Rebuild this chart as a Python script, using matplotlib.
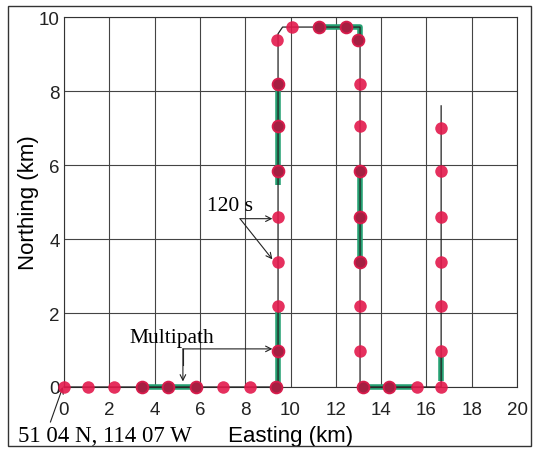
import numpy as np
import matplotlib.pyplot as plt
from matplotlib.patches import Rectangle

# Vehicle track (km): thin reference path
track_e = [0.0, 9.45, 9.45, 9.65, 13.07, 13.07, 16.65, 16.65]
track_n = [0.0, 0.0, 9.55, 9.73, 9.73, 0.0, 0.0, 7.6]

# Segments flagged as multipath (east list, north list)
multipath_segs = [
    ([3.45, 5.85], [0.0, 0.0]),
    ([9.45, 9.45], [0.0, 2.03]),
    ([9.45, 9.45], [5.45, 8.1]),
    ([11.26, 13.07, 13.07], [9.73, 9.73, 9.38]),
    ([13.07, 13.07], [3.39, 5.96]),
    ([13.2, 15.4], [0.0, 0.0]),
    ([16.65, 16.65], [0.15, 0.8]),
]

# Position fixes every 120 s
fix_e = [0.0, 1.04, 2.23, 3.44, 4.6, 5.83, 7.02, 8.2, 9.35,
         9.45, 9.45, 9.45, 9.45, 9.45, 9.45, 9.45, 9.4,
         10.07, 11.26, 12.45, 13.0,
         13.07, 13.07, 13.07, 13.07, 13.07, 13.07, 13.07, 13.2,
         14.35, 15.6, 16.65,
         16.65, 16.65, 16.65, 16.65, 16.65, 16.65]
fix_n = [0.0, 0.0, 0.0, 0.0, 0.0, 0.0, 0.0, 0.0, 0.0,
         0.97, 2.19, 3.39, 4.6, 5.83, 7.05, 8.2, 9.38,
         9.73, 9.73, 9.73, 9.38,
         8.2, 7.05, 5.83, 4.6, 3.39, 2.19, 0.97, 0.0,
         0.0, 0.0, 0.0,
         0.97, 2.19, 3.39, 4.6, 5.83, 7.0]

xticks = [0, 2, 4, 6, 8, 10, 12, 14, 16, 18, 20]
yticks = [0, 2, 4, 6, 8, 10]

sans = ["Liberation Sans", "DejaVu Sans"]
serif = ["Liberation Serif", "DejaVu Serif"]


def on_multipath(e, n, tol=0.12):
    # True when a fix sits on one of the multipath segments
    for se, sn in multipath_segs:
        for i in range(len(se) - 1):
            e0, e1 = sorted((se[i], se[i + 1]))
            n0, n1 = sorted((sn[i], sn[i + 1]))
            if e0 - tol <= e <= e1 + tol and n0 - tol <= n <= n1 + tol:
                return True
    return False


fig = plt.figure(figsize=(5.35, 4.52), dpi=100)
ax = fig.add_axes([0.1196, 0.1416, 0.9664 - 0.1196, 0.960 - 0.1416])

# Outer frame round the whole figure
fig.patches.append(Rectangle((8 / 535, 1 - 447 / 452), (531 - 8) / 535,
                             (447 - 7) / 452, transform=fig.transFigure,
                             fill=False, edgecolor="#333333", linewidth=1.0))

ax.set_xlim(0, 20)
ax.set_ylim(0, 10)
ax.set_xticks(xticks)
ax.set_yticks(yticks)
ax.grid(True, color="#444444", linewidth=0.8)
ax.set_axisbelow(True)
for s in ax.spines.values():
    s.set_color("#333333")
    s.set_linewidth(0.8)
ax.tick_params(length=0, pad=3, labelsize=13.5, colors="#222222")
ax.tick_params(axis="x", pad=10)
for lab in ax.get_xticklabels() + ax.get_yticklabels():
    lab.set_family(sans)

# Multipath segments drawn thick underneath the thin track
for e, n in multipath_segs:
    ax.plot(e, n, color="#25a072", linewidth=4, solid_capstyle="butt",
            zorder=2, clip_on=False)
ax.plot(track_e, track_n, color="#222222", linewidth=0.9, zorder=3,
        clip_on=False)

# Fixes on multipath stretches print darker
dark = np.array([on_multipath(e, n) for e, n in zip(fix_e, fix_n)])
fe = np.array(fix_e)
fn = np.array(fix_n)
ax.plot(fe[~dark], fn[~dark], "o", color="#e3194c", markersize=9,
        alpha=0.9, markeredgewidth=0, zorder=4, clip_on=False)
ax.plot(fe[dark], fn[dark], "o", markerfacecolor="#a51f42",
        markeredgecolor="#d81c4c", markeredgewidth=1.3, markersize=8.5,
        zorder=4, clip_on=False)

ax.set_xlabel("Easting (km)", family=sans, fontsize=16, labelpad=5)
ax.set_ylabel("Northing (km)", family=sans, fontsize=16, labelpad=0)

arrow = dict(arrowstyle="->", color="#222222", linewidth=0.8,
             shrinkA=0, shrinkB=0)

# 120 s spacing callout
ax.text(7.35, 4.9, "120 s", family=serif, fontsize=15.5, ha="center",
        va="center")
ax.annotate("", xy=(9.2, 4.55), xytext=(7.77, 4.55), arrowprops=arrow)
ax.annotate("", xy=(9.2, 3.45), xytext=(7.77, 4.55), arrowprops=arrow)

# Multipath callout
ax.text(4.77, 1.33, "Multipath", family=serif, fontsize=15.5, ha="center",
        va="center")
ax.plot([5.25, 5.25], [1.03, 0.6], color="#222222", linewidth=0.8)
ax.annotate("", xy=(9.2, 1.03), xytext=(5.25, 1.03), arrowprops=arrow)
ax.annotate("", xy=(5.25, 0.15), xytext=(5.25, 1.03), arrowprops=arrow)

# Origin coordinates
fig.text(18 / 535, 1 - 437 / 452, "51 04 N, 114 07 W", family=serif,
         fontsize=16.5, ha="left", va="center")
ax.annotate("", xy=(-0.05, 0.0), xytext=(-0.6, -0.95),
            xycoords="data", textcoords="data", arrowprops=arrow,
            annotation_clip=False)

fig.savefig("out.png", dpi=100)
